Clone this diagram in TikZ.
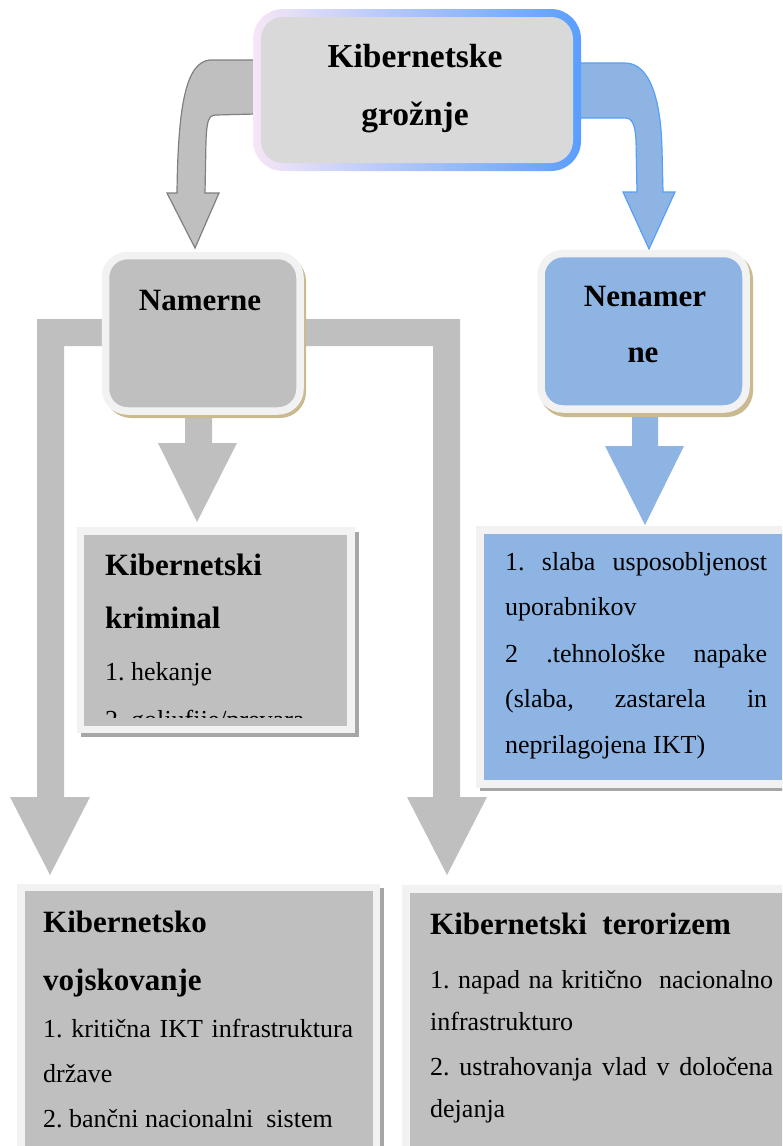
\documentclass[tikz,border=0pt]{standalone}
\usepackage{fontspec}
\setmainfont{Liberation Serif}
\frenchspacing
\begin{document}
\definecolor{fillgray}{HTML}{BFBFBF}
\definecolor{rimgray}{HTML}{F2F2F2}
\definecolor{titlegray}{HTML}{D9D9D9}
\definecolor{skyfill}{HTML}{8EB4E3}
\definecolor{skyline}{HTML}{55A0F8}
\definecolor{arrowline}{HTML}{808080}
\definecolor{tanshade}{HTML}{C9BA90}
\definecolor{boxshade}{HTML}{A6A6A6}
\definecolor{rimpink}{HTML}{F6E6F6}
\definecolor{rimsky}{HTML}{A6CFF6}
\definecolor{rimblue}{HTML}{5A9EFF}
\begin{tikzpicture}[x=1pt,y=-1pt,
  panel/.style={draw=rimgray, line width=7.5pt, anchor=north west, inner sep=0pt, outer sep=0pt},
  capsule/.style={panel, rounded corners=22pt},
  heading/.style={font=\fontsize{31}{31}\selectfont\bfseries, inner sep=0pt},
  titletext/.style={font=\fontsize{33.5}{33.5}\selectfont\bfseries, inner sep=0pt, anchor=base},
  body/.style={font=\fontsize{26}{26}\selectfont, inner sep=0pt, anchor=base west},
  bar/.style={fill=fillgray},
  bendgray/.style={fill=fillgray, draw=arrowline, line width=1.2pt, line join=miter},
  bendblue/.style={fill=skyfill, draw=skyline, line width=1.2pt, line join=miter}]
\useasboundingbox (0,0) rectangle (782,1146);
\clip (0,0) rectangle (782,1146);

% ---- branch bars leaving "Namerne" to the two lower boxes
\fill[bar] (120,319) -- (37,319) -- (37,797) -- (10,797) -- (50,875) -- (90,797)
  -- (64,797) -- (64,346) -- (120,346) -- cycle;
\fill[bar] (290,319) -- (460,319) -- (460,797) -- (487,797) -- (447,875) -- (407,797)
  -- (433,797) -- (433,346) -- (290,346) -- cycle;

% ---- curved arrows out of the title box
\draw[bendgray] (256,60) -- (210,60) .. controls (186,62) and (178,105) .. (177,193)
  -- (167,193) -- (195,248) -- (219,193) -- (205,193)
  -- (206,140) .. controls (207,122) and (208,115) .. (216,115) -- (256,114) -- cycle;
\draw[bendblue] (579,63) -- (625,63) .. controls (650,63) and (661,100) .. (662,150)
  -- (663,192) -- (675,192) -- (649,249) -- (623,192) -- (637,192)
  -- (636,140) .. controls (635,124) and (632,118) .. (625,118) -- (579,118) -- cycle;

% ---- title box with its gradient rim
\node[minimum width=328pt, minimum height=162pt, rounded corners=30pt,
  left color=rimpink, middle color=rimsky, right color=rimblue, inner sep=0pt, outer sep=0pt]
  (top) at (417,90) {};
\node[fill=titlegray, minimum width=312pt, minimum height=146pt, rounded corners=22pt,
  inner sep=0pt, outer sep=0pt] (topin) at (top.center) {};
\node[titletext] (t1) at (415,67) {Kibernetske};
\node[titletext] (t2) at (415,125) {grožnje};

% ---- short arrows below the two category boxes
\fill[bar] (185,410) -- (185,443) -- (158,443) -- (197,522) -- (237,443)
  -- (212,443) -- (212,410) -- cycle;
\fill[skyfill] (632,410) -- (632,446) -- (605,446) -- (645,525) -- (684,446)
  -- (658,446) -- (658,410) -- cycle;

% ---- category boxes
\fill[tanshade, rounded corners=26pt] (105,255) rectangle (306,418);
\node[capsule, fill=fillgray, minimum width=194.5pt, minimum height=155.5pt]
  (nam) at (105.5,255.5) {};
\node[heading, anchor=base] (namt) at (200,310) {Namerne};

\fill[tanshade, rounded corners=26pt] (540,253) rectangle (753,417);
\node[capsule, fill=skyfill, minimum width=205pt, minimum height=155.5pt]
  (nen) at (541,253.5) {};
\node[heading, anchor=base] (nent1) at (645,306) {Nenamer};
\node[heading, anchor=base] (nent2) at (643,362) {ne};

% ---- Kibernetski kriminal
\fill[boxshade] (81,532) rectangle (358.5,737);
\node[panel, fill=fillgray, minimum width=270.5pt, minimum height=198.5pt]
  (krim) at (80.5,531) {};
\node[heading, anchor=base west] (k1) at (105,575) {Kibernetski};
\node[heading, anchor=base west] (k2) at (105,628) {kriminal};
\node[body] (k3) at (105,680) {1. hekanje};
\begin{scope}
  \clip (84,535) rectangle (347,717);
  \node[body] (k4) at (105,728) {2. goljufije/prevara};
\end{scope}

% ---- list of unintentional threats
\fill[boxshade] (480,786) rectangle (800,791);
\node[panel, fill=skyfill, line width=8pt, minimum width=320.5pt, minimum height=253.5pt]
  (nenc) at (479.5,530) {};
\node[body] (n1) at (505,570) {\makebox[262pt][s]{1. slaba usposobljenost}};
\node[body] (n2) at (505,615) {uporabnikov};
\node[body] (n3) at (505,662) {\makebox[262pt][s]{2 .tehnološke napake}};
\node[body] (n4) at (505,707) {\makebox[262pt][s]{(slaba, zastarela in}};
\node[body] (n5) at (505,753) {neprilagojena IKT)};

% ---- Kibernetsko vojskovanje
\fill[boxshade] (22,888) rectangle (383.5,1160);
\node[panel, fill=fillgray, minimum width=355.5pt, minimum height=270pt]
  (voj) at (21,887.5) {};
\node[heading, anchor=base west] (v1) at (43,932) {Kibernetsko};
\node[heading, anchor=base west] (v2) at (43,990) {vojskovanje};
\node[body] (v3) at (43,1037) {\makebox[310pt][s]{1. kritična IKT infrastruktura}};
\node[body] (v4) at (43,1082) {države};
\node[body] (v5) at (43,1127) {2. bančni nacionalni \ sistem};

% ---- Kibernetski terorizem
\node[panel, fill=fillgray, minimum width=400pt, minimum height=270pt]
  (ter) at (406,889) {};
\node[heading, anchor=base west] (r1) at (430,934) {Kibernetski \ terorizem};
\node[body] (r2) at (430,988) {\makebox[343pt][s]{1. napad na kritično \ nacionalno}};
\node[body] (r3) at (430,1030) {infrastrukturo};
\node[body] (r4) at (430,1075) {\makebox[343pt][s]{2. ustrahovanja vlad v določena}};
\node[body] (r5) at (430,1117) {dejanja};
\end{tikzpicture}
\end{document}
